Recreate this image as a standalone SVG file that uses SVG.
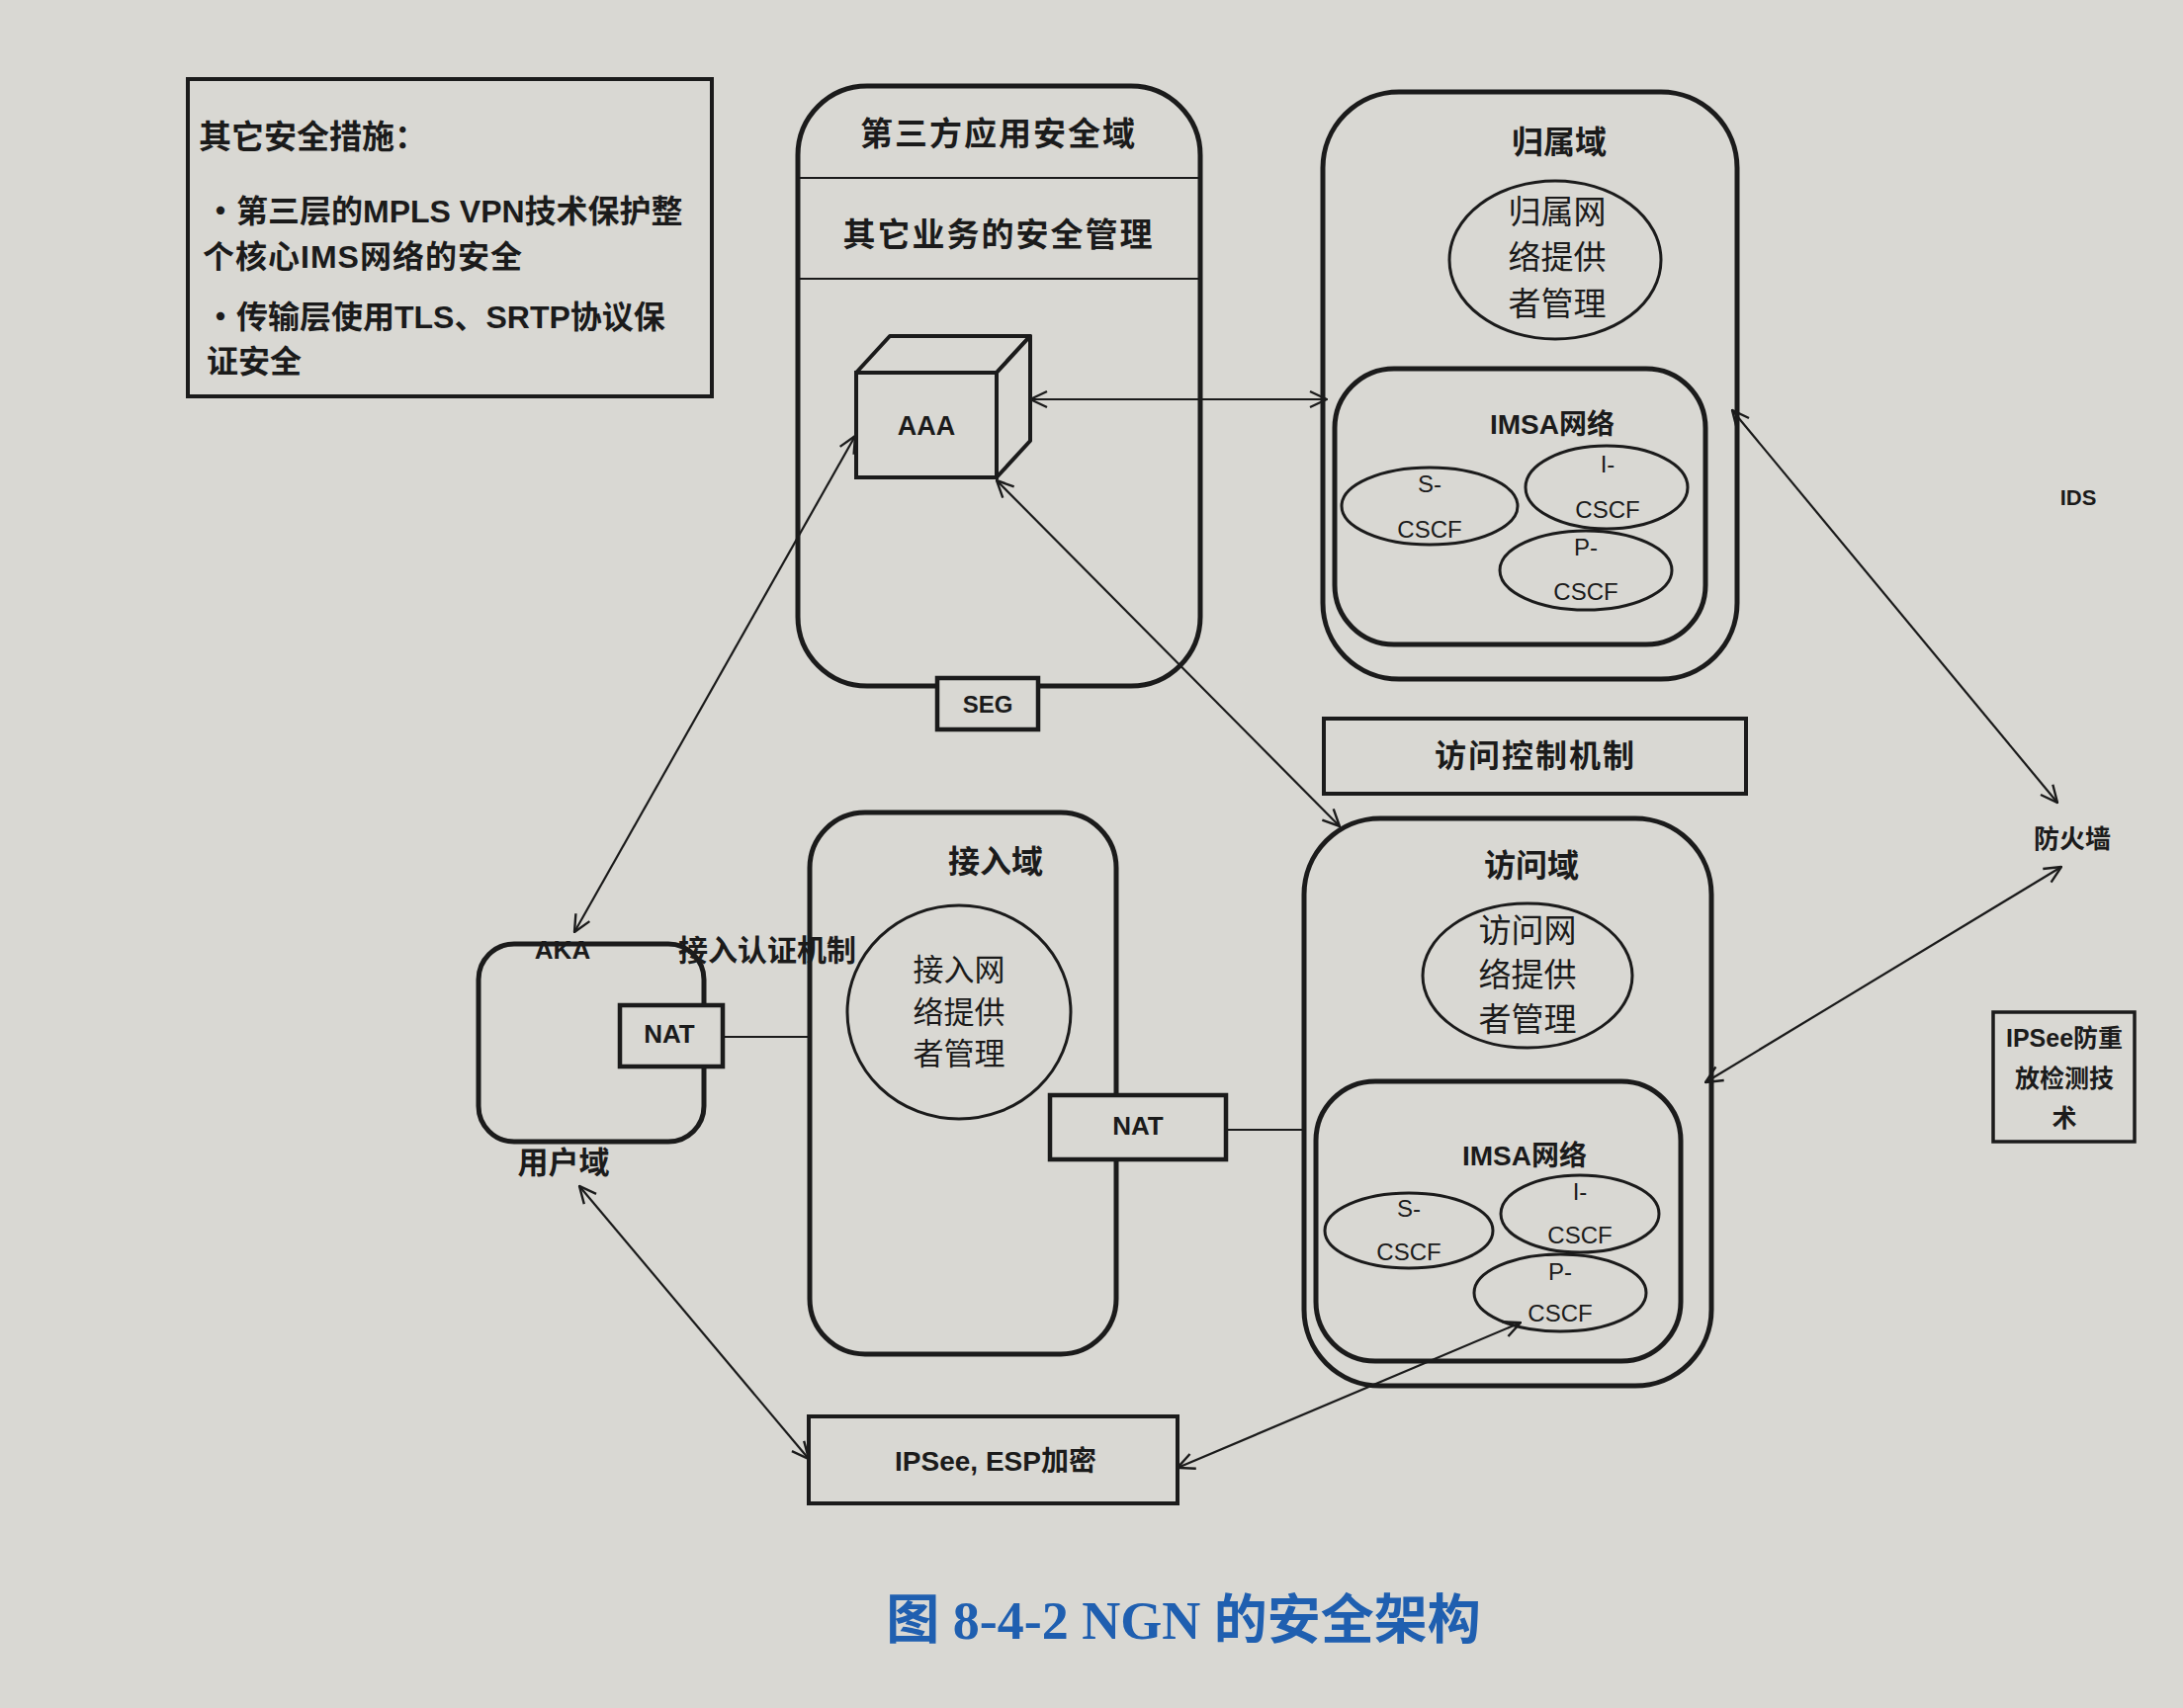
<svg xmlns="http://www.w3.org/2000/svg" width="2208" height="1728" viewBox="0 0 2208 1728">
<style>
.dom{fill:none;stroke:#1b1b1b;stroke-width:5}
.ell{fill:none;stroke:#1b1b1b;stroke-width:3}
.box{fill:#d9d8d3;stroke:#1b1b1b;stroke-width:4.5}
.t{font-family:"Liberation Sans","Noto Sans CJK SC",sans-serif;fill:#1b1b1b;text-anchor:middle;dominant-baseline:central}
.l{text-anchor:start}
.b{font-weight:700}
.conn{stroke:#1b1b1b;stroke-width:2.2;fill:none;marker-start:url(#ah);marker-end:url(#ah)}
.plain{stroke:#1b1b1b;stroke-width:2.2;fill:none}
.cap{font-family:"Liberation Serif","Noto Sans CJK SC",serif;font-weight:700;fill:#1f5fb0;font-size:54px;text-anchor:middle;dominant-baseline:central}
</style>
<defs>
<marker id="ah" viewBox="0 0 20 20" refX="19" refY="10" markerWidth="20" markerHeight="20" markerUnits="userSpaceOnUse" orient="auto-start-reverse">
<path d="M2,2 L19,10 L2,18" fill="none" stroke="#1b1b1b" stroke-width="2.4"/>
</marker>
</defs>
<rect x="0" y="0" width="2208" height="1728" fill="#d9d8d3"/>

<g id="connectors">
<line class="conn" x1="1042" y1="404" x2="1342" y2="404"/>
<line class="conn" x1="865" y1="441" x2="581" y2="943"/>
<line class="conn" x1="1008" y1="486" x2="1355" y2="836"/>
<line class="conn" x1="1752" y1="415" x2="2081" y2="812"/>
<line class="conn" x1="2085" y1="877" x2="1725" y2="1095"/>
<line class="conn" x1="586" y1="1200" x2="818" y2="1476"/>
<line class="conn" x1="1191" y1="1485" x2="1538" y2="1338"/>
<line class="plain" x1="731" y1="1049" x2="819" y2="1049"/>
<line class="plain" x1="1240" y1="1143" x2="1319" y2="1143"/>
</g>

<g id="other-measures">
<rect x="190" y="80" width="530" height="321" fill="none" stroke="#1b1b1b" stroke-width="4"/>
<text class="t l b" x="201" y="138" font-size="33">其它安全措施：</text>
<text class="t l b" x="207" y="214" font-size="32">・第三层的MPLS VPN技术保护整</text>
<text class="t l b" x="205" y="260" font-size="32" letter-spacing="1">个核心IMS网络的安全</text>
<text class="t l b" x="207" y="321" font-size="32">・传输层使用TLS、SRTP协议保</text>
<text class="t l b" x="209" y="366" font-size="32">证安全</text>
</g>

<g id="third-party-domain">
<rect class="dom" x="807" y="87" width="407" height="607" rx="70"/>
<line class="plain" x1="809" y1="180" x2="1212" y2="180" stroke-width="3"/>
<line class="plain" x1="809" y1="282" x2="1212" y2="282" stroke-width="3"/>
<text class="t b" x="1010" y="135" font-size="33" letter-spacing="2">第三方应用安全域</text>
<text class="t b" x="1010" y="237" font-size="33" letter-spacing="2">其它业务的安全管理</text>
</g>

<g id="aaa">
<polygon points="866,377 900,340 1042,340 1008,377" fill="#d9d8d3" stroke="#1b1b1b" stroke-width="4" stroke-linejoin="round"/>
<polygon points="1008,377 1042,340 1042,446 1008,483" fill="#d9d8d3" stroke="#1b1b1b" stroke-width="4" stroke-linejoin="round"/>
<rect x="866" y="377" width="142" height="106" fill="#d9d8d3" stroke="#1b1b1b" stroke-width="4"/>
<text class="t b" x="937" y="431" font-size="27">AAA</text>
</g>

<g id="seg">
<rect class="box" x="948" y="686" width="102" height="52"/>
<text class="t b" x="999" y="712" font-size="24">SEG</text>
</g>

<g id="home-domain">
<rect class="dom" x="1338" y="93" width="419" height="594" rx="77"/>
<text class="t b" x="1577" y="144" font-size="32">归属域</text>
<ellipse class="ell" cx="1573" cy="263" rx="107" ry="80"/>
<text class="t" x="1575" y="214" font-size="33">归属网</text>
<text class="t" x="1575" y="260" font-size="33">络提供</text>
<text class="t" x="1575" y="307" font-size="33">者管理</text>
<rect class="dom" x="1350" y="373" width="375" height="279" rx="60"/>
<text class="t b" x="1570" y="429" font-size="28">IMSA网络</text>
<ellipse class="ell" cx="1446" cy="512" rx="89" ry="39"/>
<text class="t" x="1446" y="489" font-size="24">S-</text>
<text class="t" x="1446" y="535" font-size="24">CSCF</text>
<ellipse class="ell" cx="1625" cy="493" rx="82" ry="42"/>
<text class="t" x="1626" y="469" font-size="24">I-</text>
<text class="t" x="1626" y="515" font-size="24">CSCF</text>
<ellipse class="ell" cx="1604" cy="577" rx="87" ry="40"/>
<text class="t" x="1604" y="553" font-size="24">P-</text>
<text class="t" x="1604" y="598" font-size="24">CSCF</text>
</g>

<g id="access-control">
<rect x="1339" y="727" width="427" height="76" fill="none" stroke="#1b1b1b" stroke-width="4"/>
<text class="t b" x="1553" y="765" font-size="32" letter-spacing="2">访问控制机制</text>
</g>

<g id="access-domain">
<rect class="dom" x="819" y="822" width="310" height="548" rx="56"/>
<text class="t b" x="1007" y="872" font-size="32">接入域</text>
<ellipse class="ell" cx="970" cy="1024" rx="113" ry="108"/>
<text class="t" x="970" y="981" font-size="31">接入网</text>
<text class="t" x="970" y="1024" font-size="31">络提供</text>
<text class="t" x="970" y="1066" font-size="31">者管理</text>
</g>

<g id="nat-access">
<rect class="box" x="1062" y="1108" width="178" height="65"/>
<text class="t b" x="1151" y="1139" font-size="26">NAT</text>
</g>

<g id="user-domain">
<rect class="dom" x="484" y="955" width="228" height="200" rx="36"/>
<text class="t b" x="570" y="1176" font-size="31">用户域</text>
<text class="t b" x="569" y="961" font-size="26">AKA</text>
<text class="t b" x="776" y="961" font-size="30">接入认证机制</text>
</g>

<g id="nat-user">
<rect class="box" x="627" y="1017" width="104" height="62"/>
<text class="t b" x="677" y="1046" font-size="26">NAT</text>
</g>

<g id="visit-domain">
<rect class="dom" x="1319" y="828" width="412" height="574" rx="77"/>
<text class="t b" x="1549" y="876" font-size="32">访问域</text>
<ellipse class="ell" cx="1545" cy="987" rx="106" ry="73"/>
<text class="t" x="1545" y="941" font-size="33">访问网</text>
<text class="t" x="1545" y="986" font-size="33">络提供</text>
<text class="t" x="1545" y="1031" font-size="33">者管理</text>
<rect class="dom" x="1331" y="1094" width="369" height="283" rx="60"/>
<text class="t b" x="1542" y="1169" font-size="28">IMSA网络</text>
<ellipse class="ell" cx="1425" cy="1245" rx="85" ry="38"/>
<text class="t" x="1425" y="1222" font-size="24">S-</text>
<text class="t" x="1425" y="1266" font-size="24">CSCF</text>
<ellipse class="ell" cx="1598" cy="1228" rx="80" ry="39"/>
<text class="t" x="1598" y="1205" font-size="24">I-</text>
<text class="t" x="1598" y="1249" font-size="24">CSCF</text>
<ellipse class="ell" cx="1578" cy="1308" rx="87" ry="39"/>
<text class="t" x="1578" y="1286" font-size="24">P-</text>
<text class="t" x="1578" y="1328" font-size="24">CSCF</text>
</g>

<g id="ipsec-esp">
<rect x="818" y="1433" width="373" height="88" fill="none" stroke="#1b1b1b" stroke-width="4"/>
<text class="t b" x="1007" y="1478" font-size="28">IPSee, ESP加密</text>
</g>

<g id="ids">
<text class="t b" x="2102" y="503" font-size="22">IDS</text>
</g>

<g id="firewall">
<text class="t b" x="2096" y="849" font-size="26">防火墙</text>
</g>

<g id="ipsec-replay">
<rect x="2016" y="1024" width="143" height="131" fill="none" stroke="#1b1b1b" stroke-width="3.5"/>
<text class="t b" x="2088" y="1050" font-size="25">IPSee防重</text>
<text class="t b" x="2088" y="1091" font-size="25">放检测技</text>
<text class="t b" x="2088" y="1131" font-size="25">术</text>
</g>

<g id="caption">
<text class="cap" x="1197" y="1640">图 8-4-2 NGN 的安全架构</text>
</g>
</svg>
